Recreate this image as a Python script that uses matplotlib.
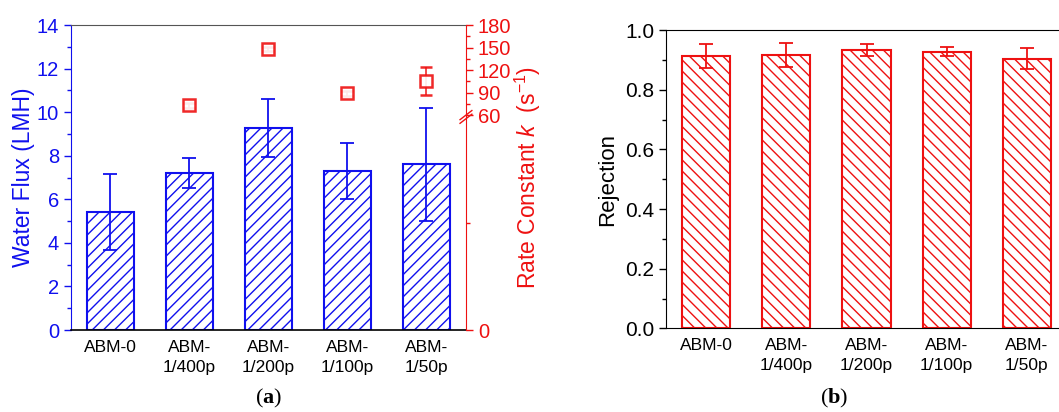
import matplotlib
matplotlib.use("Agg")
import matplotlib.pyplot as plt
import numpy as np

plt.rcParams['font.family'] = ['Liberation Sans', 'DejaVu Sans']
plt.rcParams['mathtext.fontset'] = 'custom'
plt.rcParams['mathtext.it'] = 'Liberation Sans:italic'
plt.rcParams['mathtext.rm'] = 'Liberation Sans'
plt.rcParams['mathtext.bf'] = 'Liberation Serif:bold'
plt.rcParams['hatch.linewidth'] = 1.0

categories = ['ABM-0', 'ABM-\n1/400p', 'ABM-\n1/200p', 'ABM-\n1/100p', 'ABM-\n1/50p']
flux = [5.43, 7.20, 9.28, 7.31, 7.61]
flux_err = [1.74, 0.68, 1.33, 1.29, 2.59]
rate_k = [np.nan, 72.9, 148.4, 88.9, 105.3]
rate_err = [np.nan, 3.0, 3.0, 3.0, 18.7]
rejection = [0.913, 0.916, 0.933, 0.927, 0.904]
rejection_err = [0.039, 0.041, 0.021, 0.015, 0.035]

blue = '#1010ee'
red = '#ee1111'
x = np.arange(len(categories))

fig = plt.figure(figsize=(10.59, 4.12), dpi=100)

# ---- (a) water flux + rate constant ----
ax = fig.add_axes([0.067, 0.199, 0.373, 0.740])
ax.bar(x, flux, width=0.6, color='none', edgecolor=blue, hatch='///', linewidth=1.5)
ax.errorbar(x, flux, yerr=flux_err, fmt='none', ecolor=blue, elinewidth=1.3, capsize=5, capthick=1.3)
ax.set_xlim(-0.5, 4.5)
ax.set_ylim(0, 14)
ax.set_yticks(range(0, 15, 2))
ax.set_yticks(range(1, 14, 2), minor=True)
ax.set_xticks(x)
ax.set_xticklabels(categories, fontsize=12.5, linespacing=1.4)
ax.tick_params(axis='x', length=0, pad=7)
ax.tick_params(axis='y', which='major', colors=blue, labelsize=14.5, length=5, width=1)
ax.tick_params(axis='y', which='minor', colors=blue, length=3, width=1)
ax.set_ylabel('Water Flux (LMH)', color=blue, fontsize=16.5, labelpad=1)
ax.spines['left'].set_color(blue)
ax.spines['top'].set_color('#555555')
ax.spines['right'].set_visible(False)
ax.spines['bottom'].set_color('black')
ax.spines['bottom'].set_linewidth(1.2)

frac_low = 215 / 305

def fwd(k):
    k = np.asarray(k, dtype=float)
    return np.where(k <= 60, k / 60 * frac_low, frac_low + (k - 60) / 120 * (1 - frac_low))

def inv(u):
    u = np.asarray(u, dtype=float)
    return np.where(u <= frac_low, u / frac_low * 60, 60 + (u - frac_low) / (1 - frac_low) * 120)

ax2 = ax.twinx()
ax2.set_yscale('function', functions=(fwd, inv))
ax2.set_ylim(0, 180)
ax2.errorbar(x, rate_k, yerr=rate_err, fmt='s', mfc='white', mec=red, mew=1.8, ms=9,
             ecolor=red, elinewidth=1.2, capsize=4, capthick=1.2, alpha=0.9)
ax2.set_yticks([0, 60, 90, 120, 150, 180])
ax2.set_yticks([30, 75, 105, 135, 165], minor=True)
ax2.tick_params(axis='y', which='major', colors=red, labelsize=14.5, length=5, width=1)
ax2.tick_params(axis='y', which='minor', colors=red, length=3, width=1)
ax2.set_ylabel('Rate Constant $k$  (s$^{-1}$)', color=red, fontsize=16.5, labelpad=1)
ax2.spines['right'].set_color(red)
for s in ['left', 'top', 'bottom']:
    ax2.spines[s].set_visible(False)
# break marks on right axis
for dy in (-0.012, 0.0):
    ax2.plot([0.985, 1.015], [frac_low - 0.015 + dy, frac_low + 0.015 + dy], transform=ax2.transAxes,
             color=red, lw=1.0, clip_on=False)

fig.text(0.254, 0.032, '($\\mathbf{a}$)', ha='center', va='center', fontsize=16, family='Liberation Serif')

# ---- (b) rejection ----
bx = fig.add_axes([0.629, 0.203, 0.3785, 0.724])
bx.bar(x, rejection, width=0.6, color='none', edgecolor=red, hatch='\\\\\\', linewidth=1.5)
bx.errorbar(x, rejection, yerr=rejection_err, fmt='none', ecolor=red, elinewidth=1.3, capsize=5, capthick=1.3)
bx.set_xlim(-0.5, 4.5)
bx.set_ylim(0, 1.0)
bx.set_yticks(np.arange(0, 1.01, 0.2))
bx.set_yticks(np.arange(0.1, 1.0, 0.2), minor=True)
bx.yaxis.set_major_formatter(matplotlib.ticker.FormatStrFormatter('%.1f'))
bx.set_xticks(x)
bx.set_xticklabels(categories, fontsize=12.5, linespacing=1.4)
bx.tick_params(axis='x', length=0, pad=7)
bx.tick_params(axis='y', which='major', labelsize=15, length=5, width=1)
bx.tick_params(axis='y', which='minor', length=3, width=1)
bx.set_ylabel('Rejection', fontsize=16, labelpad=5)
bx.spines['right'].set_visible(False)

fig.text(0.788, 0.032, '($\\mathbf{b}$)', ha='center', va='center', fontsize=16, family='Liberation Serif')

fig.savefig('out.png', dpi=100)
